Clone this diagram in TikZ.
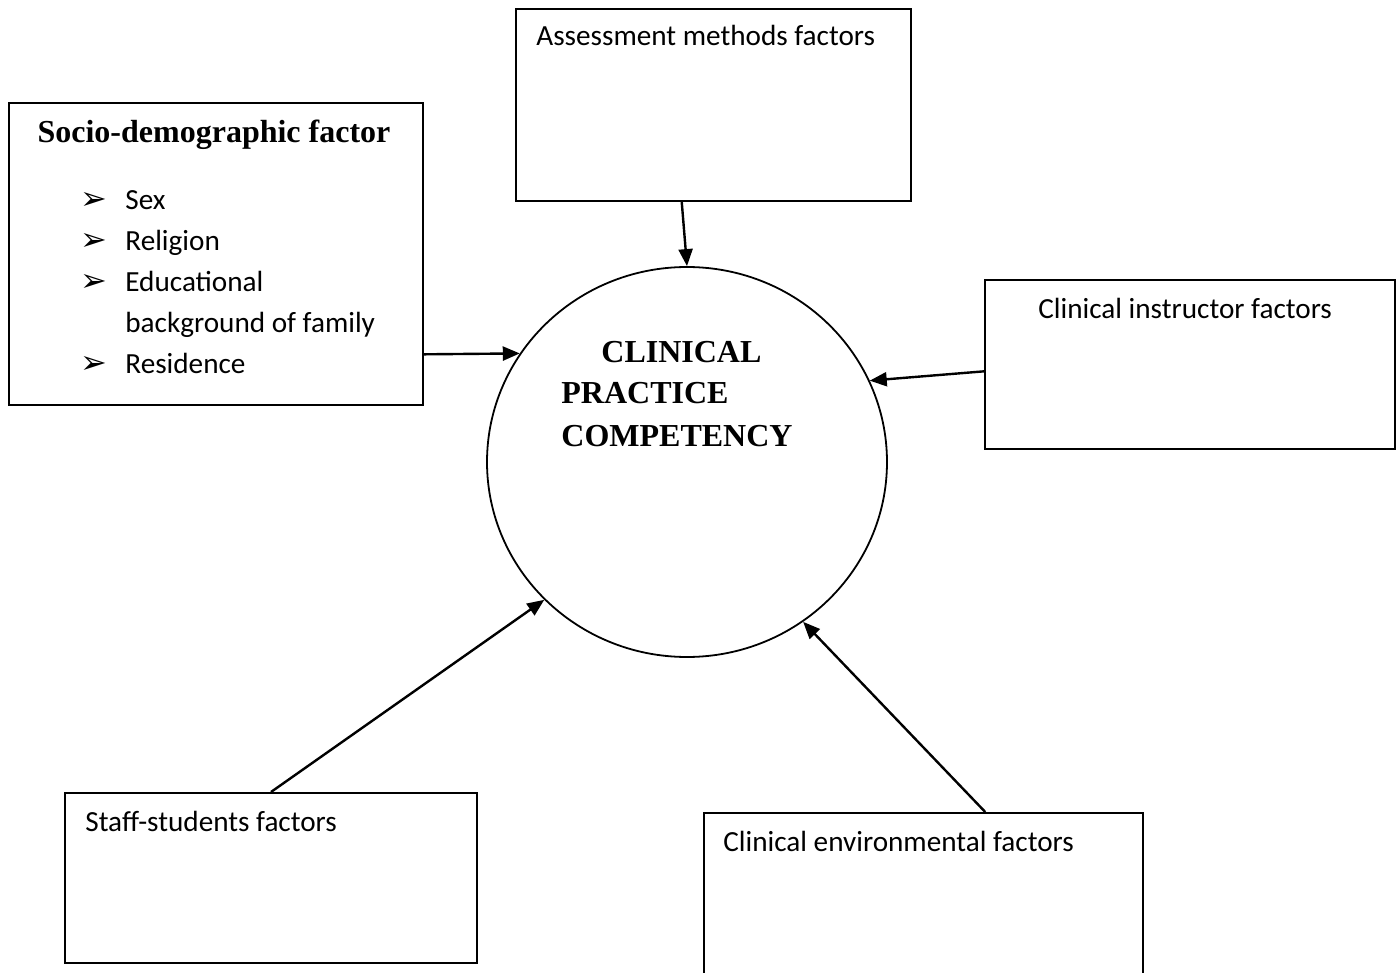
\documentclass[tikz,border=0pt]{standalone}
\usepackage{fontspec}
\setmainfont{Carlito}
\newfontfamily\headfont{Liberation Serif}
\newfontfamily\dingfont{DejaVu Sans}
\usetikzlibrary{arrows.meta,calc,shapes.geometric}

\newcommand{\itemarrow}{{\dingfont\fontsize{16}{16}\selectfont ➢}}

\begin{document}
\begin{tikzpicture}[x=0.5pt, y=-0.5pt,
  factor/.style={draw, line width=1pt, rectangle, anchor=north west, inner sep=0pt},
  txt/.style={anchor=base west, inner sep=0pt, font=\fontsize{14.6}{20.5}\selectfont},
  head/.style={inner sep=0pt, font=\headfont\bfseries\fontsize{16}{21}\selectfont},
  arr/.style={-{Triangle[length=8.5pt,width=7pt]}, line width=1.2pt}]
\useasboundingbox (0,0) rectangle (1399,973);
\clip (0,0) rectangle (1399,973);
\fill[white] (0,0) rectangle (1399,973);

% boxes round the centre
\node[factor, minimum width=207pt, minimum height=151pt] (socio) at (8,102) {};
\node[factor, minimum width=197.5pt, minimum height=96pt] (assess) at (515,8) {};
\node[factor, minimum width=205pt, minimum height=84.5pt] (instr) at (984,279) {};
\node[factor, minimum width=206pt, minimum height=85pt] (staff) at (64,792) {};
\node[factor, minimum width=219.5pt, minimum height=110pt] (env) at (703,812) {};
\node[draw, ellipse, line width=0.9pt, minimum width=200pt, minimum height=195pt,
      inner sep=0pt] (comp) at (687,462) {};

% texts
\node[head, anchor=base] (socio-t) at ($(socio.north)+(-2,41)$) {Socio-demographic factor};
\node[txt] (socio-l) at ($(socio.north west)+(72,108)$) {%
  \begin{tabular}[t]{@{}l@{}l@{}}
    \makebox[22.5pt][l]{\itemarrow} & Sex\\
    \itemarrow & Religion\\
    \itemarrow & Educational\\
               & background of family\\
    \itemarrow & Residence
  \end{tabular}};
\node[txt] (assess-t) at ($(assess.north west)+(21,38)$) {Assessment methods factors};
\node[txt] (instr-t) at ($(instr.north west)+(54,40)$) {Clinical instructor factors};
\node[txt] (staff-t) at ($(staff.north west)+(21,39)$) {Staff-students factors};
\node[txt] (env-t) at ($(env.north west)+(20,39)$) {Clinical environmental factors};
\node[head, anchor=base west, align=left] (comp-t) at (561,446)
  {\hspace*{20pt}CLINICAL\\PRACTICE\\COMPETENCY};

% arrows into the circle
\draw[arr] ($(assess.south west)!0.42!(assess.south east)$) -- (comp.north);
\draw[arr] ($(socio.north east)!0.83!(socio.south east)$) -- (comp.147.6);
\draw[arr] ($(instr.north west)!0.54!(instr.south west)$) -- (comp.24.4);
\draw[arr] (staff.north) -- (comp.224);
\draw[arr] ($(env.north west)!0.64!(env.north east)$) -- (comp.306.8);
\end{tikzpicture}
\end{document}
